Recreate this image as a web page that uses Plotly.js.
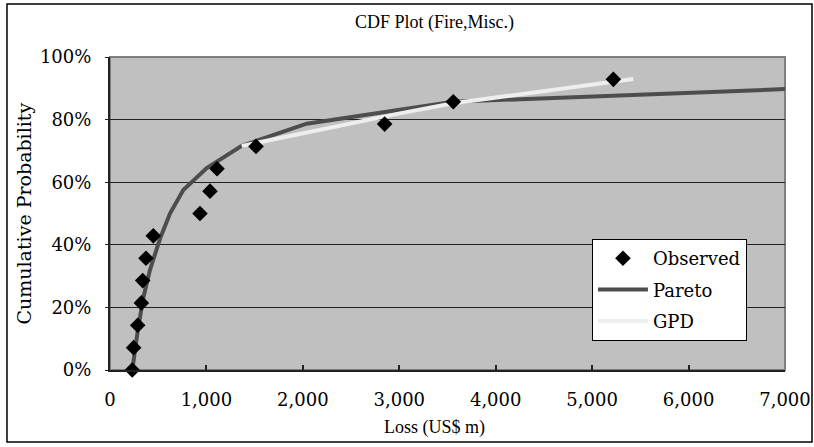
<!DOCTYPE html>
<html>
<head>
<meta charset="utf-8">
<script src="https://cdn.plot.ly/plotly-3.0.1.min.js"></script>
<style>html,body{margin:0;padding:0;background:#fff;}#chart{width:814px;height:447px;}</style>
</head>
<body>
<div id="chart"></div>
<script>
// Observed losses (US$ m) and empirical cumulative probabilities
const observedLoss = [231, 245, 287, 325, 339, 373, 449, 933, 1037, 1110, 1514, 2848, 3560, 5220];
const observedProb = [0, 0.0714, 0.1429, 0.2143, 0.2857, 0.3571, 0.4286, 0.5, 0.5714, 0.6429, 0.7143, 0.7857, 0.8571, 0.9286];

// Fitted Pareto curve
const paretoLoss = [231, 250, 290, 345, 415, 519, 622, 760, 1003, 1366, 2040, 3560, 7050];
const paretoProb = [0, 0.05, 0.13, 0.23, 0.32, 0.42, 0.50, 0.575, 0.645, 0.716, 0.787, 0.857, 0.898];

// Fitted GPD curve
const gpdLoss = [1366, 2040, 3007, 3560, 5428];
const gpdProb = [0.716, 0.759, 0.820, 0.852, 0.930];

const serif = 'DejaVu Serif, serif';
const narrowSerif = 'Liberation Serif, Times New Roman, serif';

const traces = [
  {
    x: paretoLoss, y: paretoProb, type: 'scatter', mode: 'lines', name: 'Pareto',
    line: {color: '#4d4d4d', width: 4}, legendgroup: 'b', legendrank: 2, cliponaxis: false
  },
  {
    x: gpdLoss, y: gpdProb, type: 'scatter', mode: 'lines', name: 'GPD',
    line: {color: '#eeeeee', width: 4}, legendgroup: 'c', legendrank: 3
  },
  {
    x: observedLoss, y: observedProb, type: 'scatter', mode: 'markers', name: 'Observed',
    marker: {symbol: 'diamond', size: 12, color: '#000000'}, legendgroup: 'a', legendrank: 1, cliponaxis: false
  }
];

const layout = {
  width: 814, height: 447,
  margin: {l: 110, r: 29, t: 57, b: 77},
  paper_bgcolor: '#ffffff',
  plot_bgcolor: '#c0c0c0',
  showlegend: true,
  legend: {
    x: 0.714, y: 0.4185, xanchor: 'left', yanchor: 'top',
    bgcolor: '#ffffff', bordercolor: '#000000', borderwidth: 1,
    font: {family: serif, size: 18, color: '#000'},
    itemwidth: 50, tracegroupgap: 5, traceorder: 'grouped'
  },
  xaxis: {
    range: [0, 7000], dtick: 1000, tick0: 0, tickformat: ',d',
    showgrid: false, zeroline: false,
    showline: true, linecolor: '#222', linewidth: 2,
    ticks: 'inside', ticklen: 5, tickcolor: '#222', tickwidth: 2,
    ticklabelstandoff: 12,
    tickfont: {family: serif, size: 18, color: '#000'}
  },
  yaxis: {
    range: [0, 1], dtick: 0.2, tick0: 0, tickformat: '.0%',
    showgrid: true, gridcolor: '#222', gridwidth: 1,
    zeroline: false,
    showline: true, linecolor: '#222', linewidth: 2,
    ticks: 'outside', ticklen: 3, tickcolor: '#222',
    ticklabelstandoff: 10,
    tickfont: {family: serif, size: 18, color: '#000'}
  },
  shapes: [
    {type: 'rect', xref: 'paper', yref: 'paper', x0: 0, x1: 1, y0: 0, y1: 1,
     line: {color: '#808080', width: 2}, layer: 'below'},
    {type: 'rect', xref: 'paper', yref: 'paper', x0: -0.1526, x1: 1.04, y0: -0.23, y1: 1.1693,
     line: {color: '#000000', width: 1.5}}
  ],
  annotations: [
    {text: 'CDF Plot (Fire,Misc.)', xref: 'paper', yref: 'paper', x: (434-110)/675, y: (370-23)/313,
     showarrow: false, xanchor: 'center', yanchor: 'middle',
     font: {family: narrowSerif, size: 18, color: '#000'}},
    {text: 'Loss (US$ m)', xref: 'paper', yref: 'paper', x: (434-110)/675, y: (370-427)/313,
     showarrow: false, xanchor: 'center', yanchor: 'middle',
     font: {family: narrowSerif, size: 18, color: '#000'}},
    {text: 'Cumulative Probability', xref: 'paper', yref: 'paper', x: (23-110)/675, y: 0.5,
     showarrow: false, xanchor: 'center', yanchor: 'middle', textangle: -90,
     font: {family: serif, size: 19, color: '#000'}}
  ]
};

Plotly.newPlot('chart', traces, layout, {displayModeBar: false, staticPlot: true});
</script>
</body>
</html>
